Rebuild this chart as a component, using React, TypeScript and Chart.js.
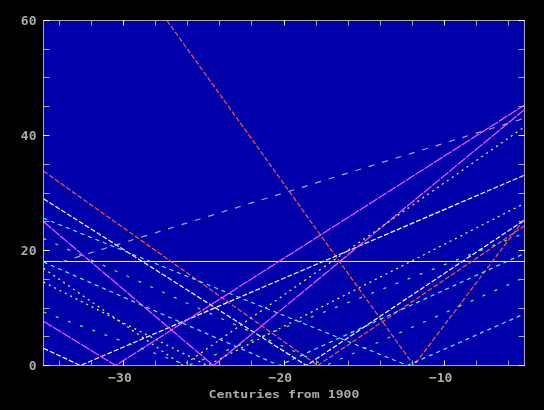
import React, { useEffect, useRef } from "react";
import { Chart, registerables } from "chart.js";

Chart.register(...registerables);

// ---- axes ----
const xMin = -35;
const xMax = -5;
const yMin = 0;
const yMax = 60;
const yMajorTicks = [0, 20, 40, 60];
const xMajorTicks = [-30, -20, -10];
const yMinorStep = 5;
const xMinorStep = 2;
const xAxisTitle = "Centuries from 1900";

// ---- data (x: centuries from 1900, y: value) ----
const thresholdX = [-35, -5];
const thresholdY = [18.09, 18.09];

const greyX = [-33.9, -5];
const greyY = [18, 43.0];

const redAX = [-27.3, -11.9, -5];
const redAY = [60, 0, 25.5];
const redBX = [-35, -17.9, -5];
const redBY = [33.8, 0, 24.3];

const whiteAX = [-35, -18.6, -5];
const whiteAY = [29.0, 0, 25.3];
const whiteBX = [-35, -32.7, -5];
const whiteBY = [3.0, 0, 33.1];

const magentaAX = [-35, -24.4, -5];
const magentaAY = [25.0, 0, 44.5];
const magentaBX = [-35, -30.5, -5];
const magentaBY = [7.7, 0, 45.3];

const yellowAX = [-35, -26.3, -5];
const yellowAY = [16.9, 0, 41.5];
const yellowBX = [-35, -24.8, -5];
const yellowBY = [14.5, 0, 28.2];

const greenAX = [-35, -17.4, -5];
const greenAY = [22.1, 0, 15.3];
const greenBX = [-35, -26.0, -5];
const greenBY = [9.3, 0, 23.0];

const cyanAX = [-35, -12.3, -5];
const cyanAY = [25.6, 0, 9.0];
const cyanBX = [-35, -20.3, -5];
const cyanBY = [18.0, 0, 19.5];

const pts = (xs: number[], ys: number[]) => xs.map((x, i) => ({ x, y: ys[i] }));

const PLOT_BG = "#0000aa";
const AXIS_GREY = "#aaaaaa";

const minus = (v: number) => (v < 0 ? "\u2212" + Math.abs(v) : String(v));

const decorPlugin = {
  id: "decor",
  beforeDraw(chart: any) {
    const { ctx, chartArea: a } = chart;
    ctx.save();
    ctx.fillStyle = "#000000";
    ctx.fillRect(0, 0, chart.width, chart.height);
    ctx.fillStyle = PLOT_BG;
    ctx.fillRect(Math.floor(a.left), Math.floor(a.top), Math.ceil(a.right - a.left) + 1, Math.ceil(a.bottom - a.top) + 1);
    ctx.restore();
  },
  afterDraw(chart: any) {
    const { ctx, chartArea: a } = chart;
    const xs = chart.scales.x;
    const ys = chart.scales.y;
    const crisp = (p: number) => Math.floor(p) + 0.5;
    ctx.save();
    ctx.lineWidth = 1;
    // frame
    ctx.strokeStyle = AXIS_GREY;
    ctx.strokeRect(crisp(a.left), crisp(a.top), Math.round(a.right - a.left), Math.round(a.bottom - a.top));
    // y ticks (left & right, inside)
    for (let v = yMin; v <= yMax; v += yMinorStep) {
      const py = crisp(ys.getPixelForValue(v));
      ctx.strokeStyle = yMajorTicks.includes(v) ? "#ffffff" : AXIS_GREY;
      ctx.beginPath();
      ctx.moveTo(crisp(a.left), py);
      ctx.lineTo(crisp(a.left) + 6, py);
      ctx.moveTo(crisp(a.right), py);
      ctx.lineTo(crisp(a.right) - 6, py);
      ctx.stroke();
    }
    // x ticks (top & bottom, inside)
    for (let v = xMin + 1; v < xMax; v += xMinorStep) {
      const px = crisp(xs.getPixelForValue(v));
      ctx.strokeStyle = xMajorTicks.includes(v) ? "#ffffff" : AXIS_GREY;
      ctx.beginPath();
      ctx.moveTo(px, crisp(a.top));
      ctx.lineTo(px, crisp(a.top) + 5);
      ctx.moveTo(px, crisp(a.bottom));
      ctx.lineTo(px, crisp(a.bottom) - 5);
      ctx.stroke();
    }
    // labels
    ctx.fillStyle = AXIS_GREY;
    ctx.font = "bold 13px 'DejaVu Sans Mono'";
    ctx.textBaseline = "alphabetic";
    ctx.textAlign = "right";
    for (const v of yMajorTicks) {
      const py = ys.getPixelForValue(v);
      ctx.fillText(String(v), 36.5, py + 4.5);
    }
    ctx.textAlign = "center";
    for (const v of xMajorTicks) {
      const px = xs.getPixelForValue(v);
      ctx.fillText(minus(v), px - 3.7, a.bottom + 16.5);
    }
    // axis title (wide bitmap-like lettering)
    ctx.font = "bold 10px 'DejaVu Sans Mono'";
    ctx.translate((a.left + a.right) / 2, a.bottom + 32);
    ctx.scale(1.32, 1);
    ctx.fillText(xAxisTitle, 0, 0);
    ctx.restore();
  },
};

export default function App() {
  const ref = useRef<HTMLCanvasElement>(null);
  useEffect(() => {
    const ds = (xs: number[], ys: number[], color: string, dash: number[], width = 1.2) => ({
      data: pts(xs, ys),
      borderColor: color,
      borderWidth: width,
      borderDash: dash,
      pointRadius: 0,
      tension: 0,
      fill: false,
    });
    const chart = new Chart(ref.current!, {
      type: "line",
      data: {
        datasets: [
          ds(greyX, greyY, "#aaaaaa", [6, 8]),
          ds(cyanAX, cyanAY, "#55ffff", [4, 4]),
          ds(cyanBX, cyanBY, "#55ffff", [4, 4]),
          ds(greenAX, greenAY, "#55ff55", [3, 10]),
          ds(greenBX, greenBY, "#55ff55", [3, 10]),
          ds(yellowAX, yellowAY, "#ffff55", [2, 4]),
          ds(yellowBX, yellowBY, "#ffff55", [2, 4]),
          ds(magentaAX, magentaAY, "#ff55ff", [10, 1]),
          ds(magentaBX, magentaBY, "#ff55ff", [10, 1]),
          ds(whiteAX, whiteAY, "#ffffff", [5, 2]),
          ds(whiteBX, whiteBY, "#ffffff", [5, 2]),
          ds(redAX, redAY, "#ff5540", [5, 2]),
          ds(redBX, redBY, "#ff5540", [5, 2]),
          ds(thresholdX, thresholdY, "#ffffd0", [], 1),
        ],
      },
      options: {
        animation: false,
        responsive: false,
        devicePixelRatio: 1,
        layout: { padding: { left: 43.5, right: 19.5, top: 20.5, bottom: 44.5 } },
        scales: {
          x: { type: "linear", min: xMin, max: xMax, display: false },
          y: { type: "linear", min: yMin, max: yMax, display: false },
        },
        plugins: { legend: { display: false }, tooltip: { enabled: false } },
      },
      plugins: [decorPlugin],
    });
    return () => chart.destroy();
  }, []);
  return (
    <div style={{ position: "fixed", left: 0, top: 0, width: 544, height: 410, background: "#000" }}>
      <canvas ref={ref} width={544} height={410} style={{ display: "block" }} />
    </div>
  );
}
